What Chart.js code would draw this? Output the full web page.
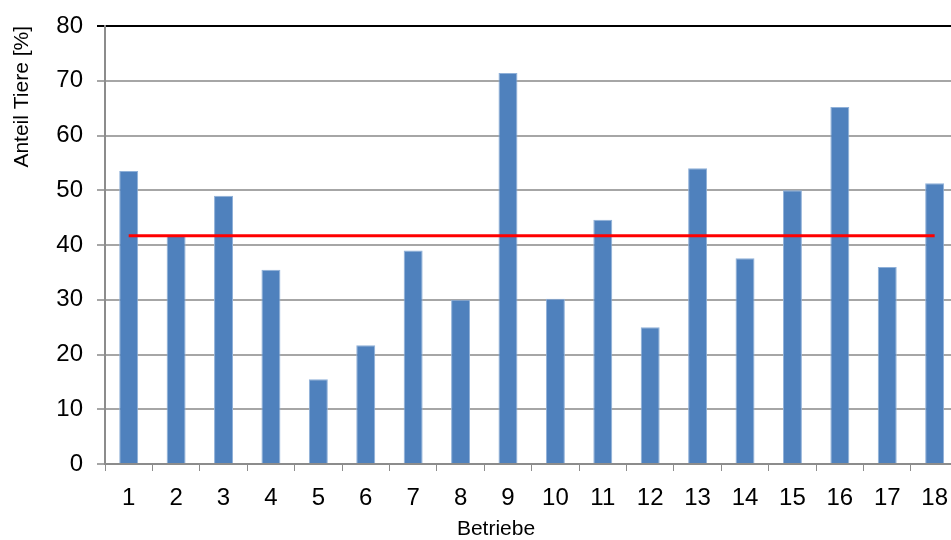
<!DOCTYPE html>
<html>
<head>
<meta charset="utf-8">
<script src="https://cdn.jsdelivr.net/npm/chart.js@4.4.0/dist/chart.umd.min.js"></script>
<style>
	html, body { margin: 0; padding: 0; background: #fff; overflow: hidden; }
	#wrap { width: 951px; height: 540px; overflow: hidden; }
</style>
</head>
<body>
<div id="wrap"><canvas id="barChart" width="961" height="540"></canvas></div>
<script>
// Betriebe 1..18
var betriebe = ["1","2","3","4","5","6","7","8","9","10","11","12","13","14","15","16","17","18"];
// Anteil Tiere [%] je Betrieb
var anteil = [53.5, 41.7, 49.0, 35.5, 15.5, 21.7, 39.0, 30.0, 71.4, 30.2, 44.6, 25.0, 54.0, 37.6, 50.0, 65.2, 36.0, 51.3];
// Mittelwert (rote Linie)
var mittel = [41.7, 41.7, 41.7, 41.7, 41.7, 41.7, 41.7, 41.7, 41.7, 41.7, 41.7, 41.7, 41.7, 41.7, 41.7, 41.7, 41.7, 41.7];
var yTicks = [0, 10, 20, 30, 40, 50, 60, 70, 80];

var fontFam = "'Liberation Sans', Arial, sans-serif";

// x axis title sits a bit left of centre in the original (plot runs past the right edge)
var xTitle = {
	id: 'xTitle',
	afterDraw: function(chart){
		var ctx = chart.ctx;
		ctx.save();
		ctx.fillStyle = "#000";
		ctx.font = "21px " + fontFam;
		ctx.textAlign = "center";
		ctx.textBaseline = "middle";
		ctx.fillText("Betriebe", 496, 529);
		ctx.restore();
	}
};

const CHART = document.getElementById("barChart");
let barChart = new Chart(CHART, {
	type: 'bar',
	data: {
		labels: betriebe,
		datasets: [
			{
				type: 'line',
				label: "Mittelwert",
				data: mittel,
				borderColor: "#FF0000",
				borderWidth: 3,
				pointRadius: 0,
				fill: false,
				order: 0
			},
			{
				label: "Anteil Tiere",
				data: anteil,
				backgroundColor: "#4F81BD",
				borderColor: "#8FB0D8",
				borderWidth: 1,
				barPercentage: 0.4,
				categoryPercentage: 1.0,
				order: 1
			}
		]
	},
	plugins: [xTitle],
	options: {
		responsive: false,
		animation: false,
		layout: { padding: { top: 24, right: 0, left: 0, bottom: 0 } },
		plugins: {
			legend: { display: false },
			tooltip: { enabled: false }
		},
		scales: {
			x: {
				offset: true,
				grid: {
					offset: true,
					drawOnChartArea: false,
					drawTicks: true,
					tickLength: 7,
					color: "#8C8C8C"
				},
				border: { color: "#8C8C8C", width: 2 },
				ticks: {
					color: "#000",
					padding: 13,
					maxRotation: 0,
					autoSkip: false,
					font: { family: fontFam, size: 24 }
				},
				afterFit: function(scale){ scale.height = 76; }
			},
			y: {
				min: 0,
				max: 80,
				afterBuildTicks: function(scale){
					scale.ticks = yTicks.map(function(v){ return { value: v }; });
				},
				grid: {
					color: function(ctx){ return ctx.tick && ctx.tick.value === 80 ? "#000" : "#A6A6A6"; },
					lineWidth: 2,
					tickLength: 8,
					drawTicks: true
				},
				border: { color: "#8C8C8C", width: 2 },
				ticks: {
					color: "#000",
					padding: 14,
					font: { family: fontFam, size: 24, lineHeight: 1.0 }
				},
				title: {
					display: true,
					text: "Anteil Tiere [%]",
					align: 'end',
					color: "#000",
					padding: { top: 10, bottom: 0 },
					font: { family: fontFam, size: 21 }
				},
				afterFit: function(scale){ scale.width = 105; }
			}
		}
	}
});
</script>
</body>
</html>
